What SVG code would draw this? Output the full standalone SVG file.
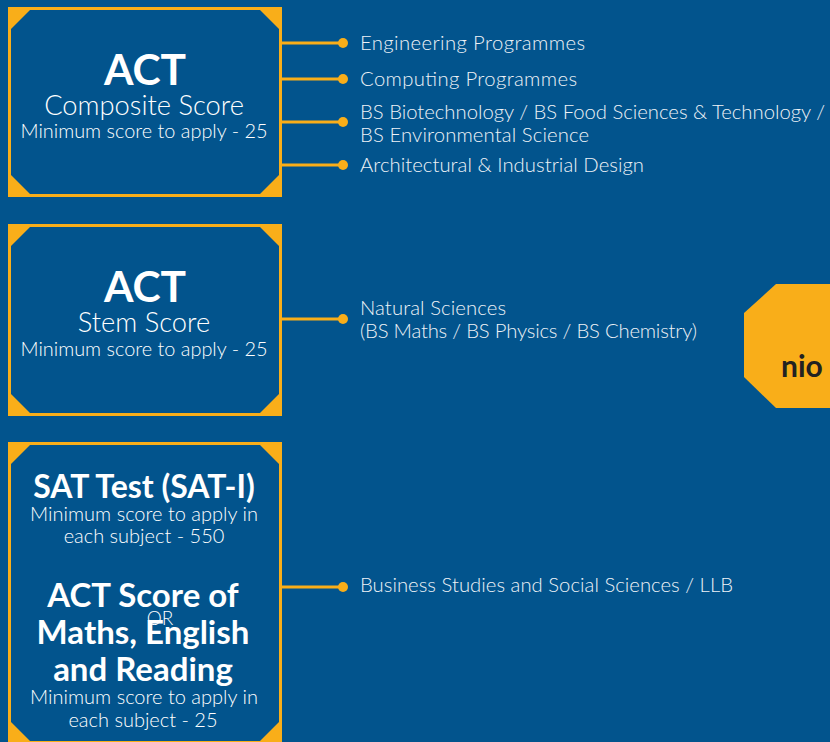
<svg xmlns="http://www.w3.org/2000/svg" width="830" height="742" viewBox="0 0 830 742">
<style>
.bg{fill:#02548d}
.frame{fill:#f9ae19}
.inner{fill:#02548d}
.t{font-family:Lato,"Noto Sans",sans-serif;fill:#ffffff;font-weight:300}
.h{font-weight:700}
.c{text-anchor:middle}
.lbl{font-family:Lato,"Noto Sans",sans-serif;fill:#eef2f7;font-size:20.3px;font-weight:300}
.ln{stroke:#f9ae19;stroke-width:3;fill:none}
.dot{fill:#f9ae19}
</style>
<rect class="bg" x="0" y="0" width="830" height="742"/>

<g id="node-act-composite">
<rect class="frame" x="8" y="7" width="274" height="190"/>
<polygon class="inner" points="30,10 260,10 279,29 279,175 260,194 30,194 11,175 11,29"/>
<text class="t h c" x="145" y="85" font-size="42.5">ACT</text>
<text class="t c" x="144" y="115" font-size="27.3">Composite Score</text>
<text class="t c" x="144" y="138" font-size="19.9">Minimum score to apply - 25</text>
</g>

<g id="node-act-stem">
<rect class="frame" x="8" y="224" width="274" height="192"/>
<polygon class="inner" points="30,227 260,227 279,246 279,394 260,413 30,413 11,394 11,246"/>
<text class="t h c" x="145" y="302" font-size="42.5">ACT</text>
<text class="t c" x="144" y="332" font-size="27.3">Stem Score</text>
<text class="t c" x="144" y="356" font-size="19.9">Minimum score to apply - 25</text>
</g>

<g id="node-sat">
<rect class="frame" x="8" y="442" width="274" height="310"/>
<polygon class="inner" points="30,445 260,445 279,464 279,722 260,741 30,741 11,722 11,464"/>
<text class="t h c" x="144" y="498" font-size="32">SAT Test (SAT-I)</text>
<text class="t c" x="144" y="521" font-size="20">Minimum score to apply in</text>
<text class="t c" x="144" y="543" font-size="20">each subject - 550</text>
<text class="t c" x="160" y="625" font-size="19">OR</text>
<text class="t h c" x="143" y="607" font-size="33">ACT Score of</text>
<text class="t h c" x="143" y="644" font-size="33">Maths, English</text>
<text class="t h c" x="143" y="681" font-size="33">and Reading</text>
<text class="t c" x="144" y="704" font-size="20">Minimum score to apply in</text>
<text class="t c" x="143" y="727" font-size="20">each subject - 25</text>
</g>

<g id="node-right">
<polygon class="frame" points="776,284 840,284 840,408 776,408 744,377 744,313"/>
<text x="781" y="377" font-family="Lato,'Noto Sans',sans-serif" font-weight="700" font-size="30" fill="#222222">nio</text>
</g>

<g id="connectors">
<line class="ln" x1="282" y1="43" x2="343" y2="43"/>
<circle class="dot" cx="343" cy="43" r="5"/>
<line class="ln" x1="282" y1="79" x2="343" y2="79"/>
<circle class="dot" cx="343" cy="79" r="5"/>
<line class="ln" x1="282" y1="122" x2="343" y2="122"/>
<circle class="dot" cx="343" cy="122" r="5"/>
<line class="ln" x1="282" y1="165" x2="343" y2="165"/>
<circle class="dot" cx="343" cy="165" r="5"/>
<line class="ln" x1="282" y1="319" x2="343" y2="319"/>
<circle class="dot" cx="343" cy="319" r="5"/>
<line class="ln" x1="282" y1="587" x2="343" y2="587"/>
<circle class="dot" cx="343" cy="587" r="5"/>
</g>

<g id="labels">
<text class="lbl" x="360" y="50" textLength="225" lengthAdjust="spacing">Engineering Programmes</text>
<text class="lbl" x="360" y="86" textLength="217" lengthAdjust="spacing">Computing Programmes</text>
<text class="lbl" x="360" y="119" textLength="465" lengthAdjust="spacing">BS Biotechnology / BS Food Sciences &amp; Technology /</text>
<text class="lbl" x="360" y="142" textLength="229" lengthAdjust="spacing">BS Environmental Science</text>
<text class="lbl" x="360" y="172" textLength="284" lengthAdjust="spacing">Architectural &amp; Industrial Design</text>
<text class="lbl" x="360" y="315" textLength="146" lengthAdjust="spacing">Natural Sciences</text>
<text class="lbl" x="360" y="338" textLength="337" lengthAdjust="spacing">(BS Maths / BS Physics / BS Chemistry)</text>
<text class="lbl" x="360" y="592" textLength="373" lengthAdjust="spacing">Business Studies and Social Sciences / LLB</text>
</g>
</svg>
